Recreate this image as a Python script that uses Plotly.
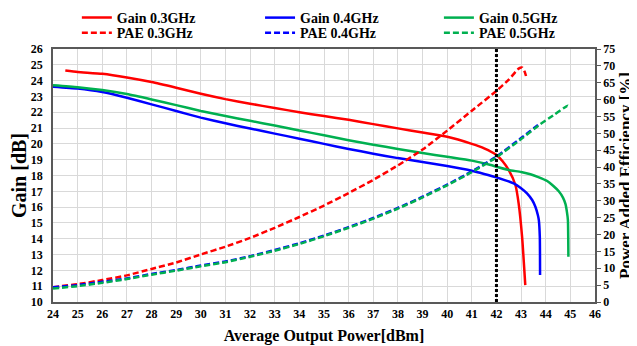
import plotly.graph_objects as go

# ---- data ----
gain03_x = [24.5, 25, 26, 27, 28, 29, 30, 31, 32, 33, 34, 35, 36, 37, 38, 39, 40, 41, 41.5, 42, 42.25, 42.5, 42.77, 42.9, 43.04, 43.17]
gain03_y = [24.64, 24.55, 24.43, 24.2, 23.91, 23.55, 23.17, 22.83, 22.54, 22.27, 22.0, 21.76, 21.52, 21.25, 20.98, 20.72, 20.45, 20.0, 19.72, 19.3, 18.9, 18.34, 17.4, 16.24, 14.13, 11.07]

gain04_x = [24, 25, 26, 27, 28, 29, 30, 31, 32, 33, 34, 35, 36, 37, 38, 39, 40, 41, 41.5, 42, 42.7, 43.0, 43.24, 43.45, 43.58, 43.68, 43.72, 43.76, 43.77]
gain04_y = [23.62, 23.5, 23.28, 22.92, 22.5, 22.08, 21.66, 21.3, 20.97, 20.65, 20.33, 20.0, 19.68, 19.38, 19.1, 18.86, 18.6, 18.3, 18.1, 17.88, 17.5, 17.2, 16.87, 16.45, 16.02, 15.5, 15.18, 14.13, 11.7]

gain05_x = [24, 25, 26, 27, 28, 29, 30, 31, 32, 33, 34, 35, 36, 37, 38, 39, 40, 41, 41.77, 42, 42.5, 43, 43.38, 43.7, 44.06, 44.3, 44.53, 44.7, 44.8, 44.86, 44.9, 44.92]
gain05_y = [23.7, 23.58, 23.4, 23.15, 22.81, 22.45, 22.08, 21.76, 21.46, 21.16, 20.85, 20.54, 20.23, 19.95, 19.68, 19.42, 19.18, 18.94, 18.66, 18.55, 18.35, 18.22, 18.08, 17.9, 17.65, 17.35, 17.0, 16.6, 16.2, 15.7, 15.18, 12.86]

pae03_x = [24, 25, 26, 27, 28, 29, 30, 31, 32, 33, 34, 35, 36, 37, 38, 39, 40, 41, 42, 42.5, 42.9, 43.05, 43.15, 43.2]
pae03_y = [4.4, 5.3, 6.5, 7.9, 9.8, 11.7, 14.1, 16.4, 19.0, 22.0, 25.2, 28.6, 32.3, 36.2, 40.5, 45.2, 50.8, 56.7, 62.6, 65.9, 69.2, 69.5, 68.2, 67.0]

pae04_x = [24, 25, 26, 27, 28, 29, 30, 31, 32, 33, 34, 35, 36, 37, 38, 39, 40, 41, 42, 43, 43.78]
pae04_y = [4.4, 5.0, 6.0, 7.0, 8.3, 9.5, 10.8, 12.0, 13.6, 15.4, 17.4, 19.7, 22.2, 24.9, 27.9, 31.2, 34.8, 38.7, 43.1, 48.6, 53.0]

pae05_x = [24, 25, 26, 27, 28, 29, 30, 31, 32, 33, 34, 35, 36, 37, 38, 39, 40, 41, 42, 43, 43.78, 44.3, 44.9, 44.95]
pae05_y = [4.0, 4.7, 5.7, 6.8, 8.1, 9.3, 10.6, 11.8, 13.4, 15.2, 17.2, 19.5, 22.0, 24.7, 27.7, 31.0, 34.6, 38.5, 42.9, 48.3, 52.7, 55.3, 58.2, 57.6]

marker_x = 42

RED, BLUE, GREEN = "#ff0000", "#0000ff", "#00b050"
FONT = "Liberation Serif"

fig = go.Figure()

def add(x, y, name, color, dash, axis, legend):
    fig.add_trace(go.Scatter(
        x=x, y=y, name="<b>" + name + "</b>", mode="lines", yaxis=axis, legend=legend,
        line=dict(color=color, width=2.5, dash=dash, shape="spline", smoothing=0.5),
    ))

add(gain03_x, gain03_y, "Gain 0.3GHz", RED, "solid", "y", "legend")
add(pae03_x, pae03_y, "PAE 0.3GHz", RED, "6px,3px", "y2", "legend4")
add(gain04_x, gain04_y, "Gain 0.4GHz", BLUE, "solid", "y", "legend2")
add(pae04_x, pae04_y, "PAE 0.4GHz", BLUE, "6px,3px", "y2", "legend5")
add(gain05_x, gain05_y, "Gain 0.5GHz", GREEN, "solid", "y", "legend3")
add(pae05_x, pae05_y, "PAE 0.5GHz", GREEN, "6px,3px", "y2", "legend6")

fig.add_shape(type="line", xref="x", yref="paper", x0=marker_x, x1=marker_x, y0=0, y1=1,
              line=dict(color="black", width=3, dash="3px,2px"))

def leg(x, y):
    return dict(
        orientation="v", yanchor="middle", y=y, xanchor="left", x=x,
        font=dict(family=FONT, size=14, color="black"),
        bgcolor="rgba(0,0,0,0)", borderwidth=0,
    )

row1, row2 = 1.1225, 1.063
col1, col2, col3 = 0.044, 0.382, 0.712

tick_font = dict(family=FONT, size=12, color="black", weight="bold")

# the page body adds an 8px offset at left/top, so the figure is 8px smaller
fig.update_layout(
    width=629, height=338,
    margin=dict(l=45, r=42, t=41, b=44, autoexpand=False),
    plot_bgcolor="white", paper_bgcolor="white",
    showlegend=True,
    legend=leg(col1, row1), legend2=leg(col2, row1), legend3=leg(col3, row1),
    legend4=leg(col1, row2), legend5=leg(col2, row2), legend6=leg(col3, row2),
    xaxis=dict(
        range=[24, 46], dtick=1, tick0=24,
        showgrid=True, gridcolor="#d9d9d9", gridwidth=1,
        showline=True, linecolor="#595959", linewidth=1.5, mirror=True,
        ticks="", tickfont=tick_font, zeroline=False,
        title=dict(text="<b>Average Output Power[dBm]</b>", font=dict(family=FONT, size=16, color="black"), standoff=10),
    ),
    yaxis=dict(
        range=[10, 26], dtick=1, tick0=10,
        showgrid=True, gridcolor="#d9d9d9", gridwidth=1,
        showline=True, linecolor="#595959", linewidth=1.5, mirror=True,
        ticks="outside", ticklen=6, tickcolor="rgba(0,0,0,0)",
        tickfont=tick_font, zeroline=False,
        title=dict(text="<b>Gain [dB]</b>", font=dict(family=FONT, size=20, color="black"), standoff=5),
    ),
    yaxis2=dict(
        range=[0, 75], dtick=5, tick0=0, overlaying="y", side="right",
        showgrid=False, showline=True, linecolor="#595959", linewidth=1.5,
        ticks="outside", ticklen=4, tickcolor="#595959",
        tickfont=tick_font, zeroline=False,
        title=dict(text="<b>Power Added Efficiency [%]</b>", font=dict(family=FONT, size=17, color="black"), standoff=5),
    ),
)

fig.write_html("out.html")
